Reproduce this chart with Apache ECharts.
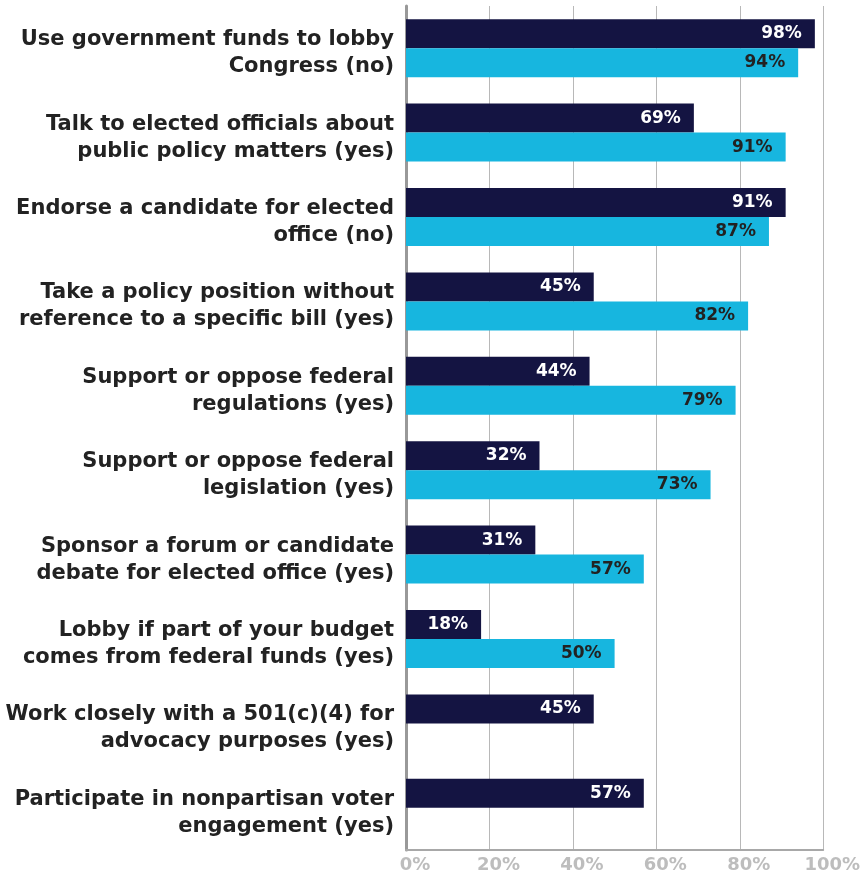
<!DOCTYPE html>
<html>
<head>
<meta charset="utf-8">
<script src="https://cdn.jsdelivr.net/npm/echarts@6/dist/echarts.min.js"></script>
<style>
  html, body { margin: 0; padding: 0; background: #ffffff; }
  #chart { width: 863px; height: 874px; }
</style>
</head>
<body>
<div id="chart"></div>
<script>
// Activities, listed top to bottom
const categories = [
  'Use government funds to lobby\nCongress (no)',
  'Talk to elected officials about\npublic policy matters (yes)',
  'Endorse a candidate for elected\noffice (no)',
  'Take a policy position without\nreference to a specific bill (yes)',
  'Support or oppose federal\nregulations (yes)',
  'Support or oppose federal\nlegislation (yes)',
  'Sponsor a forum or candidate\ndebate for elected office (yes)',
  'Lobby if part of your budget\ncomes from federal funds (yes)',
  'Work closely with a 501(c)(4) for\nadvocacy purposes (yes)',
  'Participate in nonpartisan voter\nengagement (yes)'
];

// Percent answering correctly, first group (navy bars)
const navyValues = [98, 69, 91, 45, 44, 32, 31, 18, 45, 57];
// Percent answering correctly, second group (cyan bars); null where not asked
const cyanValues = [94, 91, 87, 82, 79, 73, 57, 50, null, null];

const xTicks = [0, 20, 40, 60, 80, 100];

const font = 'DejaVu Sans';
const chart = echarts.init(document.getElementById('chart'), null, { renderer: 'canvas' });

chart.setOption({
  animation: false,
  backgroundColor: '#ffffff',
  grid: { left: 406, right: 38, top: 6, bottom: 24, containLabel: false },
  xAxis: {
    type: 'value',
    min: xTicks[0],
    max: xTicks[xTicks.length - 1],
    interval: 20,
    axisLine: { show: true, lineStyle: { color: '#a8a8a8', width: 2 } },
    axisTick: { show: false },
    splitLine: { show: true, lineStyle: { color: '#b8b8b8', width: 1 } },
    axisLabel: {
      formatter: '{value}%',
      color: '#bdbdbd',
      fontFamily: font,
      fontWeight: 700,
      fontSize: 18,
      margin: 6,
      padding: [0, 0, 0, 18]
    }
  },
  yAxis: {
    type: 'category',
    inverse: true,
    data: categories,
    axisLine: { show: true, lineStyle: { color: '#999999', width: 3 } },
    axisTick: { show: false },
    splitLine: { show: false },
    axisLabel: {
      align: 'right',
      margin: 12,
      // a thin spacer line above the two text lines lowers the block slightly
      formatter: (value) => '{gap| }\n' + value.split('\n').map((s) => '{t|' + s + '}').join('\n'),
      rich: {
        gap: { fontSize: 1, lineHeight: 10, height: 10 },
        t: {
          color: '#222222',
          fontFamily: font,
          fontWeight: 700,
          fontSize: 21,
          lineHeight: 27,
          align: 'right'
        }
      }
    }
  },
  series: [
    {
      type: 'bar',
      data: navyValues,
      barWidth: 29,
      barGap: '0%',
      itemStyle: { color: '#141442' },
      label: {
        show: true,
        position: 'insideRight',
        distance: 13,
        formatter: '{c}%',
        color: '#ffffff',
        fontFamily: font,
        fontWeight: 700,
        fontSize: 17
      }
    },
    {
      type: 'bar',
      data: cyanValues,
      barWidth: 29,
      barGap: '0%',
      itemStyle: { color: '#17b6df' },
      label: {
        show: true,
        position: 'insideRight',
        distance: 13,
        formatter: '{c}%',
        color: '#222222',
        fontFamily: font,
        fontWeight: 700,
        fontSize: 17
      }
    }
  ]
});
</script>
</body>
</html>
